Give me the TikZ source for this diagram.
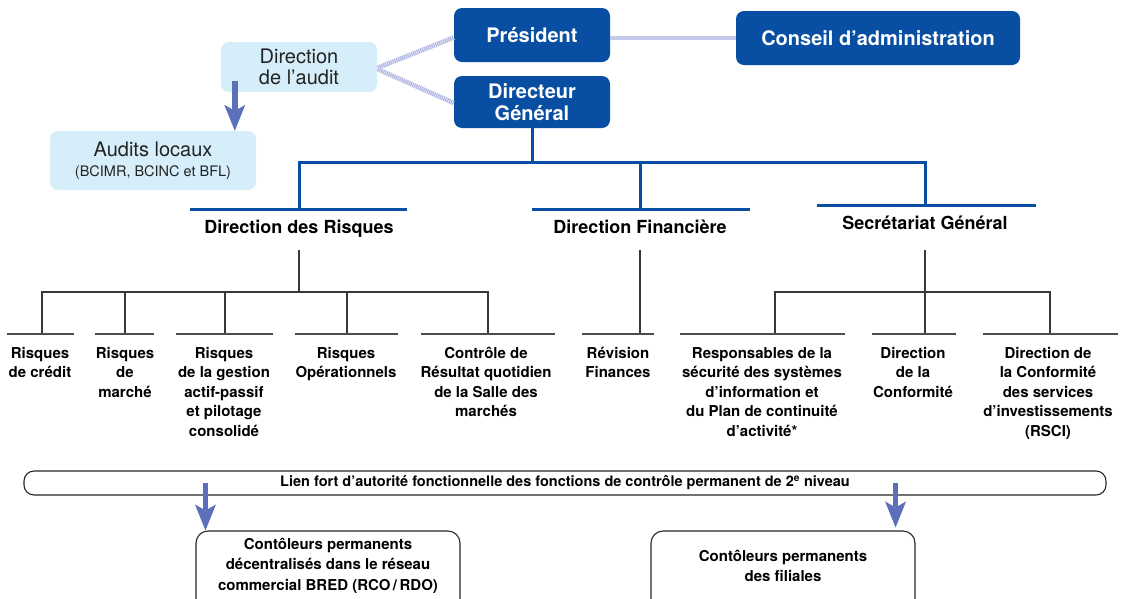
\documentclass[tikz,border=0pt]{standalone}
\usepackage{fontspec}
\setmainfont{TeX Gyre Heros}
\usetikzlibrary{arrows.meta}
\definecolor{bblue}{RGB}{8,78,162}
\definecolor{lblue}{RGB}{214,238,250}
\definecolor{hatchc}{RGB}{176,182,226}
\definecolor{hatchh}{RGB}{196,200,234}
\definecolor{arrc}{RGB}{92,112,186}
\definecolor{txtgray}{RGB}{35,35,35}
\definecolor{linegray}{RGB}{55,55,55}
\tikzset{
  bluebox/.style={rounded corners=8pt, fill=bblue, text=white, inner sep=0pt, align=center,
    font=\bfseries\fontsize{20}{22}\selectfont},
  lightbox/.style={rounded corners=8pt, fill=lblue, text=txtgray, inner sep=0pt, align=center,
    font=\fontsize{20}{21}\selectfont},
  hatchline/.style={draw=hatchc, line width=4.5pt},
  hatchover/.style={draw=white, line width=4.5pt, dash pattern=on 0.4pt off 1.6pt},
  hatchflat/.style={draw=hatchh, line width=4.5pt},
  bluebar/.style={draw=bblue, line width=3pt, line join=miter},
  thinline/.style={draw=linegray, line width=1.1pt},
  smallbar/.style={draw=black!70, line width=1.6pt},
  headtxt/.style={anchor=base, inner sep=0pt, font=\bfseries\fontsize{18}{22}\selectfont},
  lbl/.style={anchor=north, inner sep=0pt, align=center, font=\bfseries\fontsize{15}{19.5}\selectfont,
    execute at begin node={\rule{0pt}{11pt}}},
  botbox/.style={draw=black!85, line width=1.1pt, rounded corners=12pt, inner sep=0pt},
  fatarrow/.style={draw=arrc, line width=5.5pt,
    -{Stealth[length=26pt, width=21pt, inset=6pt, line width=0pt]}},
}
\begin{document}
\begin{tikzpicture}[x=1pt, y=-1pt]
\useasboundingbox (0,0) rectangle (1121,598);
\clip (0,0) rectangle (1121,598);

% top boxes
\node[bluebox, minimum width=156pt, minimum height=54pt] (pres) at (532,35) {Président};
\node[bluebox, minimum width=156pt, minimum height=52pt] (dg) at (532,102) {Directeur\\Général};
\node[bluebox, minimum width=284pt, minimum height=54pt] (ca) at (878,38) {Conseil d’administration};
\node[lightbox, minimum width=156pt, minimum height=50pt] (audit) at (299,67) {Direction\\de l’audit};
\node[lightbox, minimum width=206pt, minimum height=59pt] (loc) at (153,160.5)
  {Audits locaux\\[-1pt]{\fontsize{14.5}{16}\selectfont (BCIMR, BCINC et BFL)}};

% hatched links
\draw[hatchline] ([yshift=-1pt]audit.east) -- ([yshift=-2.5pt]pres.west);
\draw[hatchover] ([yshift=-1pt]audit.east) -- ([yshift=-2.5pt]pres.west);
\draw[hatchline] ([yshift=-2pt]audit.east) -- ([yshift=-1pt]dg.west);
\draw[hatchover] ([yshift=-2pt]audit.east) -- ([yshift=-1pt]dg.west);
\draw[hatchflat] ([yshift=-3pt]pres.east) -- ([yshift=0pt]ca.west);

% audit arrow
\coordinate (aa) at ([xshift=14pt,yshift=11pt]audit.south west);
\draw[fatarrow] (aa) -- (aa |- loc.north);

% blue tree
\coordinate (j) at (532,162);
\coordinate (drtop) at (299,209);
\coordinate (dftop) at (640,209);
\coordinate (sgtop) at (925,205);
\draw[bluebar] (dg.south) -- (j);
\draw[bluebar] (j) -| (drtop);
\draw[bluebar] (j) -| (dftop);
\draw[bluebar] (j) -| (sgtop);
\draw[bluebar] (190,209) -- (407,209);
\draw[bluebar] (532,209) -- (750,209);
\draw[bluebar] (817,205) -- (1036,205);

\node[headtxt] (dr) at (299,233) {Direction des Risques};
\node[headtxt] (df) at (640,233) {Direction Financière};
\node[headtxt] (sg) at (925,229) {Secrétariat Général};

% thin connectors
\coordinate (drb) at (299,250);
\coordinate (drh) at (299,292);
\coordinate (dfb) at (640,250);
\coordinate (sgb) at (925,250);
\coordinate (sgh) at (925,292);
\coordinate (b1) at (42,334);
\coordinate (b2) at (125,334);
\coordinate (b3) at (225,334);
\coordinate (b4) at (347,334);
\coordinate (b5) at (488,334);
\coordinate (b6) at (640,334);
\coordinate (b7) at (775,334);
\coordinate (b8) at (925,334);
\coordinate (b9) at (1050,334);
\draw[thinline] (drb) -- (drh);
\draw[thinline] (b1) |- (drh);
\draw[thinline] (b2) -- (b2 |- drh);
\draw[thinline] (b3) -- (b3 |- drh);
\draw[thinline] (b4) -- (b4 |- drh);
\draw[thinline] (b5) |- (drh);
\draw[thinline] (dfb) -- (b6);
\draw[thinline] (sgb) -- (b8);
\draw[thinline] (b7) |- (sgh);
\draw[thinline] (b9) |- (sgh);

% small bars
\draw[smallbar] (7,334) -- (74,334);
\draw[smallbar] (95,334) -- (154,334);
\draw[smallbar] (176,334) -- (273,334);
\draw[smallbar] (295,334) -- (398,334);
\draw[smallbar] (421,334) -- (555,334);
\draw[smallbar] (582,334) -- (654,334);
\draw[smallbar] (680,334) -- (845,334);
\draw[smallbar] (872,334) -- (956,334);
\draw[smallbar] (983,334) -- (1118,334);

% labels
\node[lbl] (l1) at (40,347) {Risques\\de crédit};
\node[lbl] (l2) at (125,347) {Risques\\de\\marché};
\node[lbl] (l3) at (224,347) {Risques\\de la gestion\\actif-passif\\et pilotage\\consolidé};
\node[lbl] (l4) at (346,347) {Risques\\Opérationnels};
\node[lbl] (l5) at (486,347) {Contrôle de\\Résultat quotidien\\de la Salle des\\marchés};
\node[lbl] (l6) at (618,347) {Révision\\Finances};
\node[lbl] (l7) at (762,347) {Responsables de la\\sécurité des systèmes\\d’information et\\du Plan de continuité\\d’activité*};
\node[lbl] (l8) at (913,347) {Direction\\de la\\Conformité};
\node[lbl] (l9) at (1048,347) {Direction de\\la Conformité\\des services\\d’investissements\\(RSCI)};

% bottom
\node[draw=black!85, line width=1.1pt, rounded corners=10pt, minimum width=1082pt, minimum height=24pt,
  inner sep=0pt, font=\bfseries\fontsize{14.5}{16}\selectfont] (lien) at (565,483)
  {\raisebox{-1pt}{Lien fort d’autorité fonctionnelle des fonctions de contrôle permanent de 2\textsuperscript{e} niveau}};
\node[botbox, minimum width=264pt, minimum height=80pt] (lb) at (328,571) {};
\node[botbox, minimum width=264pt, minimum height=80pt] (rb) at (783,571) {};
\node[lbl, font=\bfseries\fontsize{15}{20.5}\selectfont] (lbt) at (328,538)
  {Contôleurs permanents\\décentralisés dans le réseau\\commercial BRED (RCO\,/\,RDO)};
\node[lbl, font=\bfseries\fontsize{15}{20.5}\selectfont] (rbt) at (783,550)
  {Contôleurs permanents\\des filiales};
\coordinate (la) at ([xshift=10pt]lb.north west);
\coordinate (ra) at ([xshift=-20pt]rb.north east);
\draw[fatarrow] (la |- lien.center) -- (la);
\draw[fatarrow] (ra |- lien.center) -- ([yshift=3pt]ra);
\end{tikzpicture}
\end{document}
